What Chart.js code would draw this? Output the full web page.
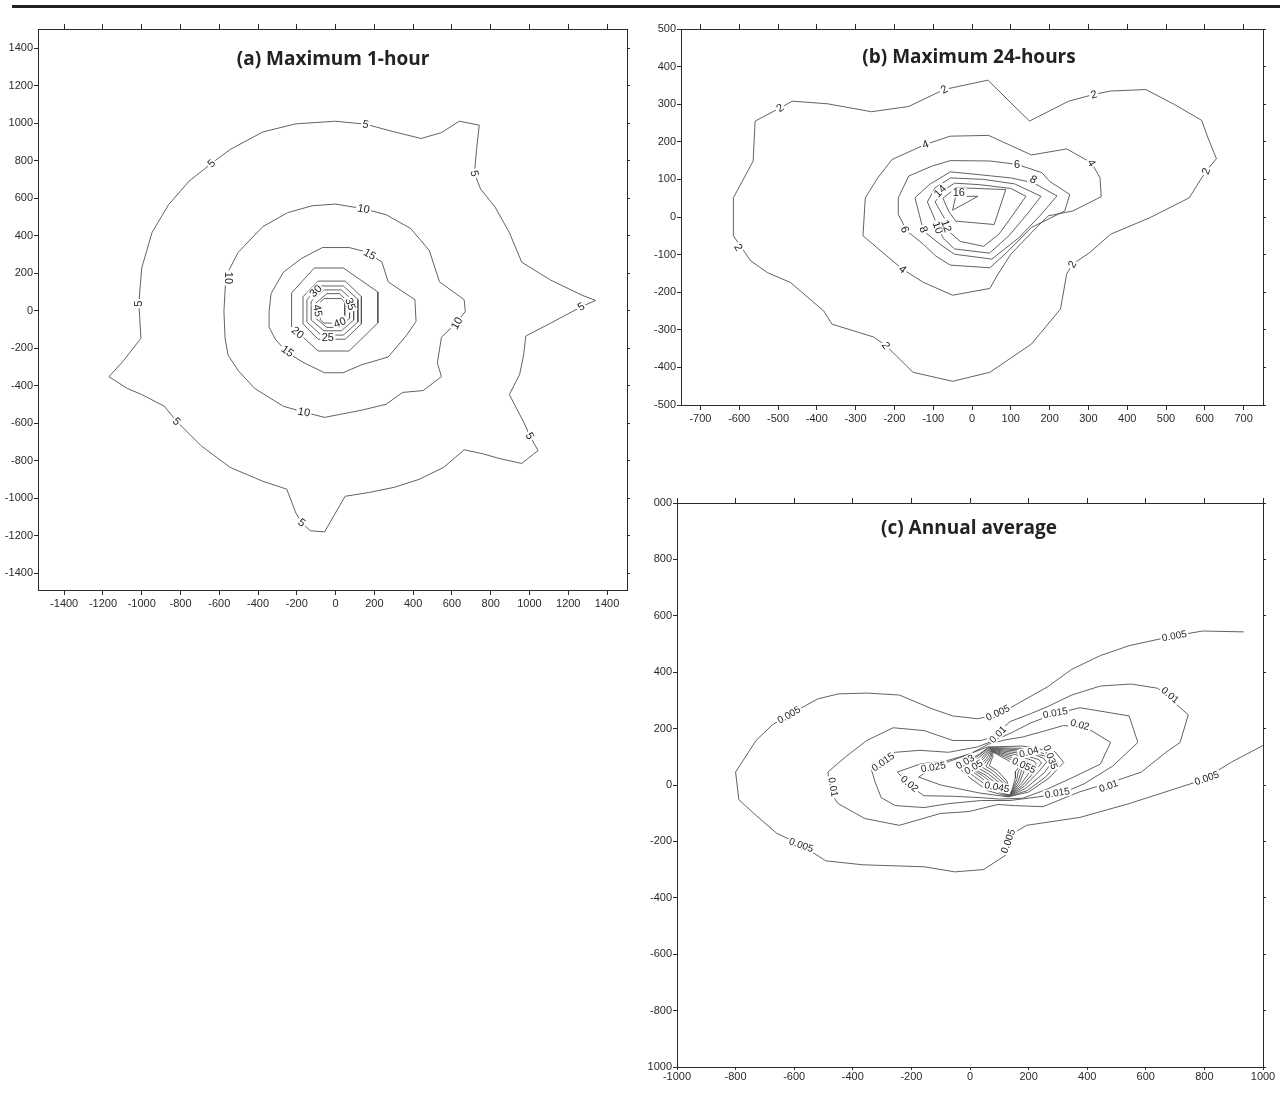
<!DOCTYPE html>
<html>
<head>
<meta charset="utf-8">
<script src="https://cdn.jsdelivr.net/npm/chart.js@4.4.1/dist/chart.umd.min.js"></script>
<style>
  body { margin: 0; background: #fff; width: 1280px; height: 1103px; position: relative; overflow: hidden; }
  .rule { position: absolute; left: 12px; top: 5px; width: 1268px; height: 3px; background: #222; }
  .box { position: absolute; }
  .title { position: absolute; transform: translate(-50%, -50%); font: 700 19px 'Open Sans', 'Noto Sans', sans-serif; color: #222; white-space: nowrap; }
</style>
</head>
<body>
<div class="rule"></div>
<div class="box" style="left:0;top:20px"><canvas id="chart-a" width="640" height="620"></canvas></div>
<div class="box" style="left:640px;top:20px"><canvas id="chart-b" width="640" height="420"></canvas></div>
<div class="box" style="left:640px;top:490px"><canvas id="chart-c" width="640" height="613"></canvas></div>
<div class="title" style="left:333px;top:58px">(a) Maximum 1-hour</div>
<div class="title" style="left:969px;top:56px">(b) Maximum 24-hours</div>
<div class="title" style="left:969px;top:527px">(c) Annual average</div>
<script>
// ---- (a) Maximum 1-hour : contour vertices [x, y] ----
const a5 = [[-1169,-352],[-1095,-268],[-1004,-147],[-1015,38],[-1000,228],[-947,417],[-862,565],[-756,691],[-640,786],[-544,860],[-375,954],[-205,997],[0,1011],[155,995],[303,954],[441,919],[546,950],[638,1011],[741,990],[727,860],[716,733],[748,649],[822,554],[896,417],[960,259],[1108,164],[1277,80],[1341,55],[1267,21],[1108,-67],[981,-135],[970,-236],[949,-341],[896,-447],[970,-594],[1002,-668],[1044,-746],[960,-815],[843,-788],[758,-763],[663,-742],[557,-836],[430,-900],[303,-942],[176,-969],[49,-990],[11,-1058],[-57,-1180],[-131,-1174],[-174,-1131],[-205,-1079],[-252,-952],[-375,-910],[-544,-836],[-693,-721],[-820,-590],[-883,-510],[-1000,-447],[-1074,-415]];
const a10 = [[-570,-147],[-576,-4],[-566,185],[-502,312],[-375,449],[-248,523],[-121,560],[0,569],[144,544],[261,512],[388,438],[483,322],[536,154],[663,59],[669,-4],[621,-67],[546,-141],[525,-278],[546,-352],[451,-426],[345,-436],[261,-499],[133,-531],[-57,-569],[-163,-541],[-269,-510],[-417,-415],[-502,-320],[-555,-236]];
const a15 = [[-343,-4],[-333,91],[-269,206],[-174,280],[-68,337],[70,337],[165,312],[239,259],[271,154],[409,59],[415,-57],[366,-131],[271,-247],[133,-289],[38,-331],[-57,-331],[-163,-278],[-248,-225],[-311,-152],[-343,-88]];
const a20 = [[-110,228],[40,228],[218,100],[218,-65],[70,-215],[-90,-215],[-227,-85],[-227,95]];
const a25 = [[-90,158],[50,158],[133,75],[133,-70],[50,-152],[-90,-152],[-168,-70],[-168,75]];
const a30 = [[-75,132],[40,132],[115,60],[115,-60],[40,-130],[-75,-130],[-148,-60],[-148,60]];
const a35 = [[-60,111],[30,111],[93,50],[93,-50],[30,-107],[-60,-107],[-126,-50],[-126,50]];
const a40 = [[-45,91],[20,91],[72,40],[72,-40],[20,-89],[-45,-89],[-103,-40],[-103,40]];
const a45 = [[-60,65],[30,65],[47,45],[47,-50],[30,-66],[-60,-66],[-79,-48],[-79,45]];
// label: [x, y, text, angle in degrees]
const labelsA = [
  [155,995,'5',10],[-640,786,'5',-45],[716,733,'5',80],[-1015,38,'5',-90],[1267,21,'5',-30],
  [1002,-668,'5',60],[-820,-590,'5',45],[-174,-1131,'5',35],
  [144,544,'10',10],[-554,175,'10',90],[625,-67,'10',-60],[-163,-541,'10',10],
  [176,301,'15',30],[-248,-215,'15',35],
  [-195,-116,'20',40],[-40,-143,'25',0],[-103,105,'30',-45],[76,35,'35',70],[21,-63,'40',-20],[-92,0,'45',80]
];
const ticksA = [-1400,-1200,-1000,-800,-600,-400,-200,0,200,400,600,800,1000,1200,1400];

// ---- (b) Maximum 24-hours ----
const b2 = [[-559,255],[-495,290],[-463,308],[-372,301],[-259,280],[-163,294],[-72,339],[41,364],[148,255],[249,308],[314,326],[357,335],[448,339],[522,299],[592,257],[608,211],[630,155],[603,122],[560,51],[458,-2],[357,-46],[303,-95],[258,-126],[244,-152],[228,-245],[153,-338],[46,-413],[-50,-437],[-152,-413],[-222,-342],[-254,-319],[-361,-285],[-382,-250],[-468,-174],[-527,-148],[-570,-117],[-615,-50],[-615,51],[-564,149]];
const b4 = [[-206,153],[-120,193],[-56,215],[43,217],[153,165],[244,181],[308,144],[330,104],[333,54],[260,16],[196,3],[153,-42],[100,-99],[67,-152],[46,-190],[-50,-208],[-125,-174],[-179,-139],[-281,-50],[-275,51],[-243,104]];
const b6 = [[-190,51],[-163,109],[-104,135],[-56,150],[46,149],[116,140],[180,118],[201,94],[252,60],[239,16],[153,-28],[89,-95],[46,-135],[-56,-128],[-93,-104],[-125,-73],[-168,-37],[-190,7]];
const b8 = [[-147,51],[-109,87],[-56,120],[14,113],[100,104],[158,91],[219,56],[175,3],[121,-55],[51,-112],[-45,-99],[-82,-73],[-125,-37],[-136,7]];
const b10 = [[-115,40],[-95,78],[-55,104],[30,100],[110,88],[178,55],[140,5],[95,-50],[45,-96],[-45,-85],[-75,-55],[-92,-15]];
const b12 = [[-95,40],[-75,70],[-45,90],[20,86],[100,76],[139,55],[105,5],[70,-45],[30,-78],[-30,-65],[-58,-40],[-70,-5]];
const b14 = [[-75,50],[-40,78],[87,73],[57,-20],[-42,-11],[-60,15]];
const b16 = [[-50,18],[-42,55],[15,55]];
const labelsB = [
  [-495,290,'2',-35],[-72,339,'2',-30],[314,326,'2',-15],[603,122,'2',-70],[258,-126,'2',-60],[-222,-342,'2',55],[-602,-81,'2',60],
  [-120,193,'4',-20],[308,144,'4',60],[-179,-139,'4',40],
  [116,140,'6',0],[-173,-33,'6',70],
  [158,100,'8',30],[-125,-33,'8',70],
  [-88,-28,'10',70],[-66,-24,'12',70],[-82,69,'14',-45],[-34,65,'16',0]
];
const xTicksB = [-700,-600,-500,-400,-300,-200,-100,0,100,200,300,400,500,600,700];
const yTicksB = [-500,-400,-300,-200,-100,0,100,200,300,400,500];

// ---- (c) Annual average ----
const c005 = [[934,543],[794,546],[697,529],[543,494],[445,459],[347,410],[263,347],[179,298],[95,249],[25,235],[-59,245],[-129,270],[-241,319],[-352,326],[-450,323],[-520,305],[-618,249],[-674,214],[-730,158],[-800,46],[-789,-52],[-730,-108],[-660,-171],[-576,-213],[-492,-269],[-366,-283],[-157,-290],[-52,-308],[46,-300],[123,-248],[137,-178],[193,-143],[375,-115],[543,-66],[794,18],[892,81],[1000,140]];
const c010 = [[550,358],[641,343],[745,249],[717,151],[669,116],[585,46],[487,11],[375,-24],[249,-77],[151,-73],[95,-69],[-3,-94],[-101,-101],[-241,-143],[-359,-119],[-450,-66],[-478,-24],[-485,46],[-422,102],[-352,158],[-262,203],[-157,193],[-59,158],[39,158],[81,172],[137,225],[207,253],[263,277],[347,319],[445,351]];
const c015 = [[375,274],[543,245],[573,151],[487,67],[389,4],[319,-27],[249,-40],[137,-55],[39,-55],[-73,-66],[-157,-80],[-255,-73],[-303,-45],[-324,11],[-336,53],[-297,95],[-255,116],[-171,123],[-73,116],[25,135],[95,163],[151,190],[207,220],[291,253]];
const c020 = [[403,200],[480,151],[445,74],[347,25],[263,-15],[180,-47],[100,-50],[39,-45],[-59,-40],[-157,-38],[-205,-3],[-248,46],[-171,74],[-73,88],[0,110],[63,145],[120,160],[179,170],[249,190],[319,211]];
const c025 = [[-175,28],[-125,64],[-40,95],[60,135],[180,138],[290,118],[320,80],[270,25],[200,-25],[130,-42],[30,-28],[-100,0]];
const c030 = [[-45,68],[-17,82],[30,108],[62,133],[175,130],[280,105],[300,78],[260,30],[195,-20],[131,-41],[60,-20],[0,25]];
const c035 = [[-25,62],[10,90],[64,131],[170,125],[265,100],[282,85],[255,45],[190,-12],[132,-40],[70,-12],[15,30]];
const c040 = [[-10,60],[25,92],[66,129],[165,120],[201,117],[250,95],[262,82],[235,48],[185,-5],[133,-39],[80,-8],[30,32]];
const c045 = [[2,58],[38,93],[68,127],[160,114],[235,90],[244,78],[222,50],[180,0],[134,-38],[92,-7],[42,34]];
const c050 = [[8,60],[48,95],[70,125],[155,108],[218,85],[226,75],[208,52],[175,5],[135,-37],[100,-3],[52,36]];
const c055 = [[25,62],[58,96],[72,123],[150,102],[200,80],[208,72],[190,65],[170,10],[136,-36],[108,2],[62,40]];
const c060 = [[40,64],[66,97],[74,121],[145,96],[185,76],[192,68],[176,52],[165,15],[137,-35],[115,6],[72,44]];
const c065 = [[54,66],[72,98],[76,119],[140,90],[172,72],[178,64],[165,50],[160,20],[138,-34],[121,10],[82,48]];
const c070 = [[66,68],[77,99],[78,117],[135,84],[160,68],[165,60],[155,48],[155,25],[139,-33],[126,14],[92,52]];
const labelsC = [
  [697,529,'0.005',-10],[95,256,'0.005',-25],[-618,249,'0.005',-30],[-576,-213,'0.005',20],[130,-199,'0.005',-70],[808,25,'0.005',-20],
  [683,319,'0.01',40],[95,179,'0.01',-45],[-467,-7,'0.01',80],[473,-3,'0.01',-20],
  [-297,82,'0.015',-35],[291,256,'0.015',-10],[298,-28,'0.015',-10],
  [375,214,'0.02',15],[-206,4,'0.02',40],
  [-125,64,'0.025',-10],[-17,82,'0.03',-30],[12,64,'0.05',-30],[201,117,'0.04',-15],[275,99,'0.035',70],[184,70,'0.055',25],[92,-7,'0.045',10]
];
const ticksC = [-1000,-800,-600,-400,-200,0,200,400,600,800,1000];
// the scan cuts off the left of the top and bottom y labels
const yTickTextC = ['1000','-800','-600','-400','-200','0','200','400','600','800','000'];

const LINE = '#505050';
const AXIS = '#2a2a2a';
const tickFont = { family: "'Liberation Sans Narrow', 'Liberation Sans', Arial, sans-serif", size: 11 };

// Draw the contour values on the lines, with a white gap behind them
const contourLabels = {
  id: 'contourLabels',
  afterDatasetsDraw(chart, args, opts) {
    const { ctx } = chart;
    const xs = chart.scales.x, ys = chart.scales.y;
    ctx.save();
    ctx.font = opts.font;
    ctx.textAlign = 'center';
    ctx.textBaseline = 'middle';
    opts.labels.forEach(([vx, vy, text, angle]) => {
      const w = ctx.measureText(text).width;
      ctx.save();
      ctx.translate(xs.getPixelForValue(vx), ys.getPixelForValue(vy));
      ctx.rotate(angle * Math.PI / 180);
      ctx.fillStyle = '#fff';
      ctx.fillRect(-w / 2 - 1.5, -5, w + 3, 10);
      ctx.fillStyle = '#222';
      ctx.fillText(text, 0, 0.5);
      ctx.restore();
    });
    ctx.restore();
  }
};

function ring(points, closed = true) {
  const data = points.map(p => ({ x: p[0], y: p[1] }));
  if (closed) data.push({ x: points[0][0], y: points[0][1] });
  return {
    data: data,
    showLine: true,
    borderColor: LINE,
    borderWidth: 0.9,
    pointRadius: 0,
    fill: false,
    tension: 0
  };
}

// Plain numbers on the axes, no thousands separator
const plain = value => String(value);

// Four axes round a frame; sizes fix where the chart area sits in the canvas
function frameScales(c) {
  const fix = size => scale => {
    if (scale.isHorizontal()) scale.height = size; else scale.width = size;
  };
  const setTicks = list => scale => { scale.ticks = list.map(v => ({ value: v })); };
  const grid = len => ({ drawOnChartArea: false, drawTicks: true, tickLength: len, color: AXIS, lineWidth: 1 });
  const border = { color: AXIS, width: 1 };
  return {
    x: {
      type: 'linear', position: 'bottom', min: c.xMin, max: c.xMax,
      afterBuildTicks: setTicks(c.xTicks),
      ticks: { color: AXIS, font: tickFont, padding: c.xPad, maxRotation: 0, autoSkip: false, callback: plain },
      grid: grid(c.xTick), border: border, afterFit: fix(c.bottom)
    },
    x2: {
      type: 'linear', position: 'top', min: c.xMin, max: c.xMax,
      afterBuildTicks: setTicks(c.xTicks),
      ticks: { display: false },
      grid: grid(5), border: border, afterFit: fix(c.top)
    },
    y: {
      type: 'linear', position: 'left', min: c.yMin, max: c.yMax,
      afterBuildTicks: setTicks(c.yTicks),
      ticks: { color: AXIS, font: tickFont, padding: 1, autoSkip: false, callback: c.yText || plain },
      grid: grid(4), border: border, afterFit: fix(c.left)
    },
    y2: {
      type: 'linear', position: 'right', min: c.yMin, max: c.yMax,
      afterBuildTicks: setTicks(c.yTicks),
      ticks: { display: false },
      grid: grid(3), border: border, afterFit: fix(c.right)
    }
  };
}

function makeChart(id, rings, labels, scaleCfg, labelFont) {
  const ctx = document.getElementById(id).getContext('2d');
  return new Chart(ctx, {
    type: 'scatter',
    data: { datasets: rings },
    options: {
      responsive: false,
      animation: false,
      layout: { padding: 0 },
      scales: frameScales(scaleCfg),
      plugins: {
        legend: { display: false },
        tooltip: { enabled: false },
        contourLabels: { labels: labels, font: labelFont }
      }
    },
    plugins: [contourLabels]
  });
}

makeChart('chart-a',
  [a5, a10, a15, a20, a25, a30, a35, a40, a45].map(p => ring(p)),
  labelsA,
  { xMin: -1535, xMax: 1503, yMin: -1490, yMax: 1503, xTicks: ticksA, yTicks: ticksA,
    left: 38, top: 9, right: 13, bottom: 50, xTick: 5, xPad: 2 },
  "11px 'Liberation Sans', Arial, sans-serif");

makeChart('chart-b',
  [b2, b4, b6, b8, b10, b12, b14, b16].map(p => ring(p)),
  labelsB,
  { xMin: -750, xMax: 750, yMin: -500, yMax: 500, xTicks: xTicksB, yTicks: yTicksB,
    left: 41, top: 9, right: 17, bottom: 35, xTick: 5, xPad: 2 },
  "11px 'Liberation Sans', Arial, sans-serif");

makeChart('chart-c',
  [ring(c005, false)].concat([c010, c015, c020, c025, c030, c035, c040, c045, c050, c055, c060, c065, c070].map(p => ring(p))),
  labelsC,
  { xMin: -1000, xMax: 1000, yMin: -1000, yMax: 1000, xTicks: ticksC, yTicks: ticksC,
    left: 37, top: 13, right: 17, bottom: 36, xTick: 3, xPad: 0,
    yText: (value, index) => yTickTextC[index] },
  "10px 'Liberation Sans', Arial, sans-serif");
</script>
</body>
</html>
